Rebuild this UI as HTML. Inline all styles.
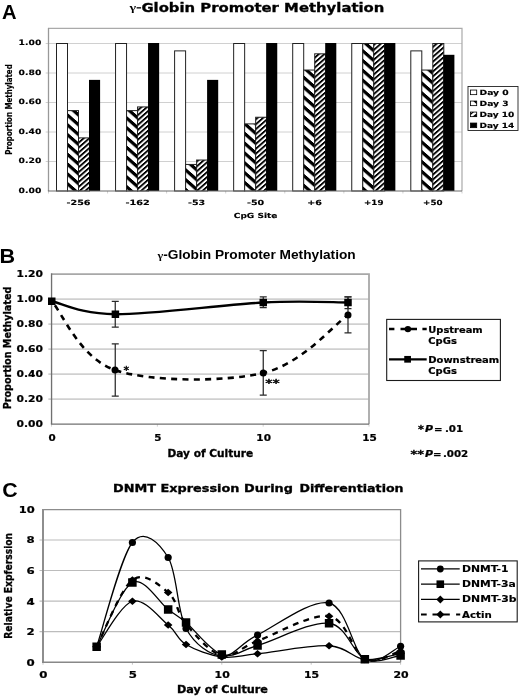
<!DOCTYPE html>
<html><head><meta charset="utf-8"><title>Figure</title>
<style>html,body{margin:0;padding:0;background:#fff}svg{display:block}</style></head>
<body>
<svg width="520" height="697" viewBox="0 0 520 697">
<defs>
<pattern id="h3" patternUnits="userSpaceOnUse" width="20" height="9.82" patternTransform="matrix(1 0.88 0 1 362.3 185.8)">
<rect width="20" height="9.82" fill="#fff"/><rect y="0" width="20" height="4.3" fill="#000"/></pattern>
<pattern id="h10" patternUnits="userSpaceOnUse" width="20" height="4.91" patternTransform="matrix(1 -0.88 0 1 373.1 186.8)">
<rect width="20" height="4.91" fill="#fff"/><rect y="0" width="20" height="2.45" fill="#000"/></pattern>
</defs>
<rect width="520" height="697" fill="#fff"/>
<rect x="48.5" y="28.45" width="413.5" height="162.55" fill="#fff"/>
<line x1="45.7" x2="462.0" y1="161.50" y2="161.50" stroke="#d0d0d0" stroke-width="1"/>
<line x1="45.7" x2="462.0" y1="132.00" y2="132.00" stroke="#d0d0d0" stroke-width="1"/>
<line x1="45.7" x2="462.0" y1="102.50" y2="102.50" stroke="#d0d0d0" stroke-width="1"/>
<line x1="45.7" x2="462.0" y1="73.00" y2="73.00" stroke="#d0d0d0" stroke-width="1"/>
<line x1="45.7" x2="462.0" y1="43.50" y2="43.50" stroke="#d0d0d0" stroke-width="1"/>
<path d="M48.5,28.45H462.0V191.0" fill="none" stroke="#aaaaaa" stroke-width="1.2"/>
<path d="M48.5,27.849999999999998V191.0" fill="none" stroke="#999999" stroke-width="1.3"/>
<text x="18.60" y="192.90" font-family='"DejaVu Sans", "Liberation Sans", sans-serif' font-weight="bold" font-style="normal" font-size="7.4" textLength="22.70" lengthAdjust="spacingAndGlyphs" fill="#000"  stroke="#000" stroke-width="0.15">0.00</text>
<text x="18.60" y="163.40" font-family='"DejaVu Sans", "Liberation Sans", sans-serif' font-weight="bold" font-style="normal" font-size="7.4" textLength="22.70" lengthAdjust="spacingAndGlyphs" fill="#000"  stroke="#000" stroke-width="0.15">0.20</text>
<text x="18.60" y="133.90" font-family='"DejaVu Sans", "Liberation Sans", sans-serif' font-weight="bold" font-style="normal" font-size="7.4" textLength="22.70" lengthAdjust="spacingAndGlyphs" fill="#000"  stroke="#000" stroke-width="0.15">0.40</text>
<text x="18.60" y="104.40" font-family='"DejaVu Sans", "Liberation Sans", sans-serif' font-weight="bold" font-style="normal" font-size="7.4" textLength="22.70" lengthAdjust="spacingAndGlyphs" fill="#000"  stroke="#000" stroke-width="0.15">0.60</text>
<text x="18.60" y="74.90" font-family='"DejaVu Sans", "Liberation Sans", sans-serif' font-weight="bold" font-style="normal" font-size="7.4" textLength="22.70" lengthAdjust="spacingAndGlyphs" fill="#000"  stroke="#000" stroke-width="0.15">0.80</text>
<text x="18.60" y="45.40" font-family='"DejaVu Sans", "Liberation Sans", sans-serif' font-weight="bold" font-style="normal" font-size="7.4" textLength="22.70" lengthAdjust="spacingAndGlyphs" fill="#000"  stroke="#000" stroke-width="0.15">1.00</text>
<rect x="56.50" y="43.50" width="11.0" height="147.50" fill="#fff" stroke="#222" stroke-width="1"/>
<rect x="67.50" y="110.61" width="11.0" height="80.39" fill="url(#h3)" stroke="#222" stroke-width="1"/>
<rect x="78.50" y="137.90" width="11.0" height="53.10" fill="url(#h10)" stroke="#222" stroke-width="1"/>
<rect x="89.00" y="79.88" width="11.1" height="111.12" fill="#000"/>
<text x="66.50" y="205.00" font-family='"DejaVu Sans", "Liberation Sans", sans-serif' font-weight="bold" font-style="normal" font-size="7.1" textLength="24.00" lengthAdjust="spacingAndGlyphs" fill="#000"  stroke="#000" stroke-width="0.15">-256</text>
<rect x="115.55" y="43.50" width="11.0" height="147.50" fill="#fff" stroke="#222" stroke-width="1"/>
<rect x="126.55" y="110.61" width="11.0" height="80.39" fill="url(#h3)" stroke="#222" stroke-width="1"/>
<rect x="137.55" y="106.93" width="11.0" height="84.07" fill="url(#h10)" stroke="#222" stroke-width="1"/>
<rect x="148.05" y="43.00" width="11.1" height="148.00" fill="#000"/>
<text x="125.40" y="205.00" font-family='"DejaVu Sans", "Liberation Sans", sans-serif' font-weight="bold" font-style="normal" font-size="7.1" textLength="24.30" lengthAdjust="spacingAndGlyphs" fill="#000"  stroke="#000" stroke-width="0.15">-162</text>
<rect x="174.60" y="50.88" width="11.0" height="140.12" fill="#fff" stroke="#222" stroke-width="1"/>
<rect x="185.60" y="164.45" width="11.0" height="26.55" fill="url(#h3)" stroke="#222" stroke-width="1"/>
<rect x="196.60" y="160.03" width="11.0" height="30.97" fill="url(#h10)" stroke="#222" stroke-width="1"/>
<rect x="207.10" y="79.88" width="11.1" height="111.12" fill="#000"/>
<text x="188.00" y="205.00" font-family='"DejaVu Sans", "Liberation Sans", sans-serif' font-weight="bold" font-style="normal" font-size="7.1" textLength="17.20" lengthAdjust="spacingAndGlyphs" fill="#000"  stroke="#000" stroke-width="0.15">-53</text>
<rect x="233.65" y="43.50" width="11.0" height="147.50" fill="#fff" stroke="#222" stroke-width="1"/>
<rect x="244.65" y="123.89" width="11.0" height="67.11" fill="url(#h3)" stroke="#222" stroke-width="1"/>
<rect x="255.65" y="117.25" width="11.0" height="73.75" fill="url(#h10)" stroke="#222" stroke-width="1"/>
<rect x="266.15" y="43.00" width="11.1" height="148.00" fill="#000"/>
<text x="247.05" y="205.00" font-family='"DejaVu Sans", "Liberation Sans", sans-serif' font-weight="bold" font-style="normal" font-size="7.1" textLength="17.20" lengthAdjust="spacingAndGlyphs" fill="#000"  stroke="#000" stroke-width="0.15">-50</text>
<rect x="292.70" y="43.50" width="11.0" height="147.50" fill="#fff" stroke="#222" stroke-width="1"/>
<rect x="303.70" y="70.05" width="11.0" height="120.95" fill="url(#h3)" stroke="#222" stroke-width="1"/>
<rect x="314.70" y="53.82" width="11.0" height="137.18" fill="url(#h10)" stroke="#222" stroke-width="1"/>
<rect x="325.20" y="43.00" width="11.1" height="148.00" fill="#000"/>
<text x="307.35" y="205.00" font-family='"DejaVu Sans", "Liberation Sans", sans-serif' font-weight="bold" font-style="normal" font-size="7.1" textLength="14.70" lengthAdjust="spacingAndGlyphs" fill="#000"  stroke="#000" stroke-width="0.15">+6</text>
<rect x="351.75" y="43.50" width="11.0" height="147.50" fill="#fff" stroke="#222" stroke-width="1"/>
<rect x="362.75" y="43.50" width="11.0" height="147.50" fill="url(#h3)" stroke="#222" stroke-width="1"/>
<rect x="373.75" y="43.50" width="11.0" height="147.50" fill="url(#h10)" stroke="#222" stroke-width="1"/>
<rect x="384.25" y="43.00" width="11.1" height="148.00" fill="#000"/>
<text x="364.05" y="205.00" font-family='"DejaVu Sans", "Liberation Sans", sans-serif' font-weight="bold" font-style="normal" font-size="7.1" textLength="19.40" lengthAdjust="spacingAndGlyphs" fill="#000"  stroke="#000" stroke-width="0.15">+19</text>
<rect x="410.80" y="50.88" width="11.0" height="140.12" fill="#fff" stroke="#222" stroke-width="1"/>
<rect x="421.80" y="70.05" width="11.0" height="120.95" fill="url(#h3)" stroke="#222" stroke-width="1"/>
<rect x="432.80" y="43.50" width="11.0" height="147.50" fill="url(#h10)" stroke="#222" stroke-width="1"/>
<rect x="443.30" y="54.80" width="11.1" height="136.20" fill="#000"/>
<text x="423.10" y="205.00" font-family='"DejaVu Sans", "Liberation Sans", sans-serif' font-weight="bold" font-style="normal" font-size="7.1" textLength="19.40" lengthAdjust="spacingAndGlyphs" fill="#000"  stroke="#000" stroke-width="0.15">+50</text>
<line x1="48.50" x2="48.50" y1="191.0" y2="193.5" stroke="#d2d2d2" stroke-width="1"/>
<line x1="107.57" x2="107.57" y1="191.0" y2="193.5" stroke="#d2d2d2" stroke-width="1"/>
<line x1="166.64" x2="166.64" y1="191.0" y2="193.5" stroke="#d2d2d2" stroke-width="1"/>
<line x1="225.71" x2="225.71" y1="191.0" y2="193.5" stroke="#d2d2d2" stroke-width="1"/>
<line x1="284.79" x2="284.79" y1="191.0" y2="193.5" stroke="#d2d2d2" stroke-width="1"/>
<line x1="343.86" x2="343.86" y1="191.0" y2="193.5" stroke="#d2d2d2" stroke-width="1"/>
<line x1="402.93" x2="402.93" y1="191.0" y2="193.5" stroke="#d2d2d2" stroke-width="1"/>
<line x1="462.00" x2="462.00" y1="191.0" y2="193.5" stroke="#d2d2d2" stroke-width="1"/>
<path d="M47.9,191.0H462.0" fill="none" stroke="#6a6a6a" stroke-width="1.15"/>
<text x="233.80" y="217.90" font-family='"DejaVu Sans", "Liberation Sans", sans-serif' font-weight="bold" font-style="normal" font-size="7.0" textLength="43.60" lengthAdjust="spacingAndGlyphs" fill="#000"  stroke="#000" stroke-width="0.15">CpG Site</text>
<text x="2.10" y="18.85" font-family='"Liberation Sans", sans-serif' font-weight="bold" font-style="normal" font-size="21" textLength="14.60" lengthAdjust="spacingAndGlyphs" fill="#000" >A</text>
<text x="129.60" y="11.00" font-family='"Liberation Serif", serif' font-weight="bold" font-style="normal" font-size="10.5" textLength="6.60" lengthAdjust="spacingAndGlyphs" fill="#000" >γ</text>
<rect x="136.6" y="7.2" width="4.5" height="1.3" fill="#000"/>
<text x="141.40" y="11.60" font-family='"DejaVu Sans", "Liberation Sans", sans-serif' font-weight="bold" font-style="normal" font-size="11.5" textLength="243.00" lengthAdjust="spacingAndGlyphs" fill="#000"  stroke="#000" stroke-width="0.3">Globin Promoter Methylation</text>
<g transform="translate(12.0,109.5) rotate(-90)">
<text x="-45.20" y="0.00" font-family='"DejaVu Sans Condensed", "DejaVu Sans", sans-serif' font-weight="bold" font-style="normal" font-size="8.2" textLength="90.40" lengthAdjust="spacingAndGlyphs" fill="#000"  stroke="#000" stroke-width="0.15">Proportion Methylated</text>
</g>
<rect x="468" y="86.5" width="50" height="44" fill="#fff" stroke="#222" stroke-width="0.9"/>
<rect x="470.5" y="90.05" width="6.2" height="4.6" fill="#fff" stroke="#000" stroke-width="0.8"/>
<text x="479.60" y="94.75" font-family='"DejaVu Sans", "Liberation Sans", sans-serif' font-weight="bold" font-style="normal" font-size="7.2" textLength="29.10" lengthAdjust="spacingAndGlyphs" fill="#000"  stroke="#000" stroke-width="0.15">Day 0</text>
<rect x="470.5" y="101.05" width="6.2" height="4.6" fill="#fff" stroke="#000" stroke-width="0.8"/>
<path d="M473.2,101.05L476.7,104.15V101.05Z" fill="#000"/>
<text x="479.60" y="105.75" font-family='"DejaVu Sans", "Liberation Sans", sans-serif' font-weight="bold" font-style="normal" font-size="7.2" textLength="29.10" lengthAdjust="spacingAndGlyphs" fill="#000"  stroke="#000" stroke-width="0.15">Day 3</text>
<rect x="470.5" y="112.05" width="6.2" height="4.6" fill="#fff" stroke="#000" stroke-width="0.8"/>
<path d="M470.5,116.65V113.55L472.5,112.05H474L470.5,115.15ZM472.3,116.65L476.7,113.15V116.65Z" fill="#000"/>
<text x="479.60" y="116.75" font-family='"DejaVu Sans", "Liberation Sans", sans-serif' font-weight="bold" font-style="normal" font-size="7.2" textLength="34.75" lengthAdjust="spacingAndGlyphs" fill="#000"  stroke="#000" stroke-width="0.15">Day 10</text>
<rect x="470.5" y="123.05" width="6.2" height="4.6" fill="#000" stroke="#000" stroke-width="0.8"/>
<text x="479.60" y="127.75" font-family='"DejaVu Sans", "Liberation Sans", sans-serif' font-weight="bold" font-style="normal" font-size="7.2" textLength="34.75" lengthAdjust="spacingAndGlyphs" fill="#000"  stroke="#000" stroke-width="0.15">Day 14</text>
<rect x="51.55" y="274.2" width="317.45" height="149.95" fill="#fff"/>
<line x1="48.349999999999994" x2="369.0" y1="399.15" y2="399.15" stroke="#d0d0d0" stroke-width="1.8"/>
<line x1="48.349999999999994" x2="369.0" y1="374.15" y2="374.15" stroke="#d0d0d0" stroke-width="1.8"/>
<line x1="48.349999999999994" x2="369.0" y1="349.15" y2="349.15" stroke="#d0d0d0" stroke-width="1.8"/>
<line x1="48.349999999999994" x2="369.0" y1="324.15" y2="324.15" stroke="#d0d0d0" stroke-width="1.8"/>
<line x1="48.349999999999994" x2="369.0" y1="299.15" y2="299.15" stroke="#d0d0d0" stroke-width="1.8"/>
<path d="M51.55,274.2H369.0V424.15" fill="none" stroke="#a8a8a8" stroke-width="1.8"/>
<path d="M51.55,273.3V424.15" fill="none" stroke="#707070" stroke-width="1.35"/>
<text x="16.60" y="427.15" font-family='"DejaVu Sans", "Liberation Sans", sans-serif' font-weight="bold" font-style="normal" font-size="9.5" textLength="26.40" lengthAdjust="spacingAndGlyphs" fill="#000"  stroke="#000" stroke-width="0.22">0.00</text>
<text x="16.60" y="402.15" font-family='"DejaVu Sans", "Liberation Sans", sans-serif' font-weight="bold" font-style="normal" font-size="9.5" textLength="26.40" lengthAdjust="spacingAndGlyphs" fill="#000"  stroke="#000" stroke-width="0.22">0.20</text>
<text x="16.60" y="377.15" font-family='"DejaVu Sans", "Liberation Sans", sans-serif' font-weight="bold" font-style="normal" font-size="9.5" textLength="26.40" lengthAdjust="spacingAndGlyphs" fill="#000"  stroke="#000" stroke-width="0.22">0.40</text>
<text x="16.60" y="352.15" font-family='"DejaVu Sans", "Liberation Sans", sans-serif' font-weight="bold" font-style="normal" font-size="9.5" textLength="26.40" lengthAdjust="spacingAndGlyphs" fill="#000"  stroke="#000" stroke-width="0.22">0.60</text>
<text x="16.60" y="327.15" font-family='"DejaVu Sans", "Liberation Sans", sans-serif' font-weight="bold" font-style="normal" font-size="9.5" textLength="26.40" lengthAdjust="spacingAndGlyphs" fill="#000"  stroke="#000" stroke-width="0.22">0.80</text>
<text x="16.60" y="302.15" font-family='"DejaVu Sans", "Liberation Sans", sans-serif' font-weight="bold" font-style="normal" font-size="9.5" textLength="26.40" lengthAdjust="spacingAndGlyphs" fill="#000"  stroke="#000" stroke-width="0.22">1.00</text>
<text x="16.60" y="277.15" font-family='"DejaVu Sans", "Liberation Sans", sans-serif' font-weight="bold" font-style="normal" font-size="9.5" textLength="26.40" lengthAdjust="spacingAndGlyphs" fill="#000"  stroke="#000" stroke-width="0.22">1.20</text>
<line x1="51.55" x2="51.55" y1="424.15" y2="426.65" stroke="#d0d0d0" stroke-width="1"/>
<text x="48.45" y="441.20" font-family='"DejaVu Sans", "Liberation Sans", sans-serif' font-weight="bold" font-style="normal" font-size="9.5" textLength="7.20" lengthAdjust="spacingAndGlyphs" fill="#000"  stroke="#000" stroke-width="0.22">0</text>
<line x1="157.37" x2="157.37" y1="424.15" y2="426.65" stroke="#d0d0d0" stroke-width="1"/>
<text x="154.27" y="441.20" font-family='"DejaVu Sans", "Liberation Sans", sans-serif' font-weight="bold" font-style="normal" font-size="9.5" textLength="7.20" lengthAdjust="spacingAndGlyphs" fill="#000"  stroke="#000" stroke-width="0.22">5</text>
<line x1="263.18" x2="263.18" y1="424.15" y2="426.65" stroke="#d0d0d0" stroke-width="1"/>
<text x="256.38" y="441.20" font-family='"DejaVu Sans", "Liberation Sans", sans-serif' font-weight="bold" font-style="normal" font-size="9.5" textLength="14.60" lengthAdjust="spacingAndGlyphs" fill="#000"  stroke="#000" stroke-width="0.22">10</text>
<line x1="369.00" x2="369.00" y1="424.15" y2="426.65" stroke="#d0d0d0" stroke-width="1"/>
<text x="362.20" y="441.20" font-family='"DejaVu Sans", "Liberation Sans", sans-serif' font-weight="bold" font-style="normal" font-size="9.5" textLength="14.60" lengthAdjust="spacingAndGlyphs" fill="#000"  stroke="#000" stroke-width="0.22">15</text>
<path d="M50.849999999999994,424.15H369.0" fill="none" stroke="#707070" stroke-width="1.4"/>
<path d="M115.25,301.25V327.00M111.75,301.25h7M111.75,327.00h7" stroke="#2a2a2a" stroke-width="1.25" fill="none"/>
<path d="M115.25,343.75V396.00M111.75,343.75h7M111.75,396.00h7" stroke="#2a2a2a" stroke-width="1.25" fill="none"/>
<path d="M263.25,296.75V307.50M259.75,296.75h7M259.75,307.50h7" stroke="#2a2a2a" stroke-width="1.25" fill="none"/>
<path d="M263.25,350.50V395.00M259.75,350.50h7M259.75,395.00h7" stroke="#2a2a2a" stroke-width="1.25" fill="none"/>
<path d="M348.00,296.80V308.50M344.50,296.80h7M344.50,308.50h7" stroke="#2a2a2a" stroke-width="1.25" fill="none"/>
<path d="M348.00,296.80V332.80M344.50,296.80h7M344.50,332.80h7" stroke="#2a2a2a" stroke-width="1.25" fill="none"/>
<path d="M51.75,301.25 C62.29,312.71 79.75,358.04 115.00,370.00 C150.25,381.96 224.42,382.17 263.25,373.00 C302.08,363.83 333.88,324.67 348.00,315.00" stroke="#000" stroke-width="2.6" fill="none" stroke-dasharray="6,5.3" stroke-dashoffset="-5.4"/>
<path d="M51.75,301.25 C62.36,303.42 80.15,314.04 115.40,314.25 C150.65,314.46 224.48,304.46 263.25,302.50 C302.02,300.54 333.88,302.50 348.00,302.50" stroke="#000" stroke-width="2.35" fill="none"/>
<circle cx="115.00" cy="370.00" r="3.5" fill="#000"/>
<circle cx="263.25" cy="373.00" r="3.5" fill="#000"/>
<circle cx="348.00" cy="315.00" r="3.5" fill="#000"/>
<rect x="48.00" y="297.50" width="7.5" height="7.5" fill="#000"/>
<rect x="111.65" y="310.50" width="7.5" height="7.5" fill="#000"/>
<rect x="259.50" y="298.75" width="7.5" height="7.5" fill="#000"/>
<rect x="344.25" y="298.75" width="7.5" height="7.5" fill="#000"/>
<text x="123.60" y="373.60" font-family='"DejaVu Sans", "Liberation Sans", sans-serif' font-weight="normal" font-style="normal" font-size="11" textLength="5.60" lengthAdjust="spacingAndGlyphs" fill="#000" stroke="#000" stroke-width="0.45">*</text>
<text x="265.30" y="387.40" font-family='"DejaVu Sans", "Liberation Sans", sans-serif' font-weight="normal" font-style="normal" font-size="11" textLength="14.50" lengthAdjust="spacingAndGlyphs" fill="#000" stroke="#000" stroke-width="0.45">**</text>
<text x="-0.40" y="263.10" font-family='"Liberation Sans", sans-serif' font-weight="bold" font-style="normal" font-size="21" textLength="15.60" lengthAdjust="spacingAndGlyphs" fill="#000" >B</text>
<text x="157.60" y="259.30" font-family='"Liberation Serif", serif' font-weight="bold" font-style="normal" font-size="11" textLength="5.70" lengthAdjust="spacingAndGlyphs" fill="#000" >γ</text>
<text x="163.20" y="259.30" font-family='"Liberation Sans", sans-serif' font-weight="bold" font-style="normal" font-size="12" textLength="192.50" lengthAdjust="spacingAndGlyphs" fill="#000" >-Globin Promoter Methylation</text>
<text x="167.50" y="456.70" font-family='"DejaVu Sans", "Liberation Sans", sans-serif' font-weight="bold" font-style="normal" font-size="10.1" textLength="85.70" lengthAdjust="spacingAndGlyphs" fill="#000"  stroke="#000" stroke-width="0.3">Day of Culture</text>
<g transform="translate(10.6,348) rotate(-90)">
<text x="-61.30" y="0.00" font-family='"DejaVu Sans Condensed", "DejaVu Sans", sans-serif' font-weight="bold" font-style="normal" font-size="10.1" textLength="122.60" lengthAdjust="spacingAndGlyphs" fill="#000"  stroke="#000" stroke-width="0.3">Proportion Methylated</text>
</g>
<rect x="386.7" y="319.4" width="113.7" height="61.1" fill="#fff" stroke="#1a1a1a" stroke-width="1.1"/>
<path d="M389,329h5.4M400.5,329h16.5M422.4,329h4.3" stroke="#000" stroke-width="2.3"/>
<circle cx="407.90" cy="329.10" r="3.2" fill="#000"/>
<path d="M389,359.3h37.7" stroke="#000" stroke-width="2.2"/>
<rect x="404.25" y="355.95" width="6.7" height="6.7" fill="#000"/>
<text x="428.30" y="332.70" font-family='"DejaVu Sans", "Liberation Sans", sans-serif' font-weight="bold" font-style="normal" font-size="9.1" textLength="54.40" lengthAdjust="spacingAndGlyphs" fill="#000"  stroke="#000" stroke-width="0.22">Upstream</text>
<text x="428.30" y="343.70" font-family='"DejaVu Sans", "Liberation Sans", sans-serif' font-weight="bold" font-style="normal" font-size="9.1" textLength="28.50" lengthAdjust="spacingAndGlyphs" fill="#000"  stroke="#000" stroke-width="0.22">CpGs</text>
<text x="428.30" y="363.30" font-family='"DejaVu Sans", "Liberation Sans", sans-serif' font-weight="bold" font-style="normal" font-size="9.1" textLength="70.90" lengthAdjust="spacingAndGlyphs" fill="#000"  stroke="#000" stroke-width="0.22">Downstream</text>
<text x="428.30" y="374.20" font-family='"DejaVu Sans", "Liberation Sans", sans-serif' font-weight="bold" font-style="normal" font-size="9.1" textLength="28.50" lengthAdjust="spacingAndGlyphs" fill="#000"  stroke="#000" stroke-width="0.22">CpGs</text>
<text x="418.00" y="433.00" font-family='"DejaVu Sans", "Liberation Sans", sans-serif' font-weight="bold" font-style="normal" font-size="11" textLength="5.90" lengthAdjust="spacingAndGlyphs" fill="#000"  stroke="#000" stroke-width="0.3">*</text>
<text x="425.00" y="432.10" font-family='"DejaVu Sans", "Liberation Sans", sans-serif' font-weight="bold" font-style="italic" font-size="9.2" textLength="8.00" lengthAdjust="spacingAndGlyphs" fill="#000"  stroke="#000" stroke-width="0.22">P</text>
<text x="433.90" y="432.10" font-family='"DejaVu Sans", "Liberation Sans", sans-serif' font-weight="bold" font-style="normal" font-size="9.2" textLength="8.50" lengthAdjust="spacingAndGlyphs" fill="#000"  stroke="#000" stroke-width="0.22">=</text>
<text x="444.90" y="432.10" font-family='"DejaVu Sans", "Liberation Sans", sans-serif' font-weight="bold" font-style="normal" font-size="9.2" textLength="18.30" lengthAdjust="spacingAndGlyphs" fill="#000"  stroke="#000" stroke-width="0.22">.01</text>
<text x="410.40" y="457.70" font-family='"DejaVu Sans", "Liberation Sans", sans-serif' font-weight="bold" font-style="normal" font-size="11" textLength="13.50" lengthAdjust="spacingAndGlyphs" fill="#000"  stroke="#000" stroke-width="0.3">**</text>
<text x="425.00" y="456.80" font-family='"DejaVu Sans", "Liberation Sans", sans-serif' font-weight="bold" font-style="italic" font-size="9.2" textLength="8.00" lengthAdjust="spacingAndGlyphs" fill="#000"  stroke="#000" stroke-width="0.22">P</text>
<text x="432.90" y="456.80" font-family='"DejaVu Sans", "Liberation Sans", sans-serif' font-weight="bold" font-style="normal" font-size="9.2" textLength="8.50" lengthAdjust="spacingAndGlyphs" fill="#000"  stroke="#000" stroke-width="0.22">=</text>
<text x="442.90" y="456.80" font-family='"DejaVu Sans", "Liberation Sans", sans-serif' font-weight="bold" font-style="normal" font-size="9.2" textLength="25.40" lengthAdjust="spacingAndGlyphs" fill="#000"  stroke="#000" stroke-width="0.22">.002</text>
<rect x="43.0" y="509.55" width="357.6" height="152.65000000000003" fill="#fff"/>
<line x1="39.5" x2="400.6" y1="631.64" y2="631.64" stroke="#bcbcbc" stroke-width="1.1"/>
<line x1="39.5" x2="400.6" y1="601.08" y2="601.08" stroke="#bcbcbc" stroke-width="1.1"/>
<line x1="39.5" x2="400.6" y1="570.52" y2="570.52" stroke="#bcbcbc" stroke-width="1.1"/>
<line x1="39.5" x2="400.6" y1="539.96" y2="539.96" stroke="#bcbcbc" stroke-width="1.1"/>
<path d="M43.0,509.55H400.6V662.2" fill="none" stroke="#8c8c8c" stroke-width="1.3"/>
<path d="M43.0,508.90000000000003V662.2" fill="none" stroke="#8e8e8e" stroke-width="2.0"/>
<text x="26.60" y="665.70" font-family='"DejaVu Sans", "Liberation Sans", sans-serif' font-weight="bold" font-style="normal" font-size="9.3" textLength="8.20" lengthAdjust="spacingAndGlyphs" fill="#000"  stroke="#000" stroke-width="0.22">0</text>
<text x="26.60" y="635.14" font-family='"DejaVu Sans", "Liberation Sans", sans-serif' font-weight="bold" font-style="normal" font-size="9.3" textLength="8.20" lengthAdjust="spacingAndGlyphs" fill="#000"  stroke="#000" stroke-width="0.22">2</text>
<text x="26.60" y="604.58" font-family='"DejaVu Sans", "Liberation Sans", sans-serif' font-weight="bold" font-style="normal" font-size="9.3" textLength="8.20" lengthAdjust="spacingAndGlyphs" fill="#000"  stroke="#000" stroke-width="0.22">4</text>
<text x="26.60" y="574.02" font-family='"DejaVu Sans", "Liberation Sans", sans-serif' font-weight="bold" font-style="normal" font-size="9.3" textLength="8.20" lengthAdjust="spacingAndGlyphs" fill="#000"  stroke="#000" stroke-width="0.22">6</text>
<text x="26.60" y="543.46" font-family='"DejaVu Sans", "Liberation Sans", sans-serif' font-weight="bold" font-style="normal" font-size="9.3" textLength="8.20" lengthAdjust="spacingAndGlyphs" fill="#000"  stroke="#000" stroke-width="0.22">8</text>
<text x="18.80" y="512.90" font-family='"DejaVu Sans", "Liberation Sans", sans-serif' font-weight="bold" font-style="normal" font-size="9.3" textLength="16.00" lengthAdjust="spacingAndGlyphs" fill="#000"  stroke="#000" stroke-width="0.22">10</text>
<line x1="43.00" x2="43.00" y1="662.2" y2="664.7" stroke="#c4c4c4" stroke-width="1"/>
<text x="39.30" y="678.40" font-family='"DejaVu Sans", "Liberation Sans", sans-serif' font-weight="bold" font-style="normal" font-size="9.3" textLength="8.20" lengthAdjust="spacingAndGlyphs" fill="#000"  stroke="#000" stroke-width="0.22">0</text>
<line x1="132.40" x2="132.40" y1="662.2" y2="664.7" stroke="#c4c4c4" stroke-width="1"/>
<text x="128.70" y="678.40" font-family='"DejaVu Sans", "Liberation Sans", sans-serif' font-weight="bold" font-style="normal" font-size="9.3" textLength="8.20" lengthAdjust="spacingAndGlyphs" fill="#000"  stroke="#000" stroke-width="0.22">5</text>
<line x1="221.80" x2="221.80" y1="662.2" y2="664.7" stroke="#c4c4c4" stroke-width="1"/>
<text x="214.60" y="678.40" font-family='"DejaVu Sans", "Liberation Sans", sans-serif' font-weight="bold" font-style="normal" font-size="9.3" textLength="15.20" lengthAdjust="spacingAndGlyphs" fill="#000"  stroke="#000" stroke-width="0.22">10</text>
<line x1="311.20" x2="311.20" y1="662.2" y2="664.7" stroke="#c4c4c4" stroke-width="1"/>
<text x="304.00" y="678.40" font-family='"DejaVu Sans", "Liberation Sans", sans-serif' font-weight="bold" font-style="normal" font-size="9.3" textLength="15.20" lengthAdjust="spacingAndGlyphs" fill="#000"  stroke="#000" stroke-width="0.22">15</text>
<line x1="400.60" x2="400.60" y1="662.2" y2="664.7" stroke="#c4c4c4" stroke-width="1"/>
<text x="393.40" y="678.40" font-family='"DejaVu Sans", "Liberation Sans", sans-serif' font-weight="bold" font-style="normal" font-size="9.3" textLength="15.20" lengthAdjust="spacingAndGlyphs" fill="#000"  stroke="#000" stroke-width="0.22">20</text>
<path d="M42.0,662.2H400.6" fill="none" stroke="#888888" stroke-width="1.4"/>
<path d="M96.64,646.75 C102.60,635.62 120.48,589.04 132.40,580.00 C144.32,570.96 159.22,585.17 168.16,592.50 C177.10,599.83 177.10,613.50 186.04,624.00 C194.98,634.50 209.88,652.67 221.80,655.50 C233.72,658.33 239.68,647.54 257.56,641.00 C275.44,634.46 311.20,613.25 329.08,616.25 C346.96,619.25 352.92,653.21 364.84,659.00 C376.76,664.79 394.64,652.33 400.60,651.00" stroke="#000" stroke-width="2.3" fill="none" stroke-dasharray="5.8,5.4"/>
<path d="M96.64,646.75 C102.60,629.38 120.48,557.38 132.40,542.50 C144.32,527.62 159.22,543.17 168.16,557.50 C177.10,571.83 177.10,612.08 186.04,628.50 C194.98,644.92 209.88,654.92 221.80,656.00 C233.72,657.08 239.68,643.83 257.56,635.00 C275.44,626.17 311.20,598.92 329.08,603.00 C346.96,607.08 352.92,652.29 364.84,659.50 C376.76,666.71 394.64,648.46 400.60,646.25" stroke="#000" stroke-width="1.3" fill="none"/>
<path d="M96.64,646.75 C102.60,636.04 120.48,588.71 132.40,582.50 C144.32,576.29 159.22,602.83 168.16,609.50 C177.10,616.17 177.10,615.00 186.04,622.50 C194.98,630.00 209.88,650.67 221.80,654.50 C233.72,658.33 239.68,650.71 257.56,645.50 C275.44,640.29 311.20,620.96 329.08,623.25 C346.96,625.54 352.92,653.88 364.84,659.25 C376.76,664.62 394.64,656.12 400.60,655.50" stroke="#000" stroke-width="1.3" fill="none"/>
<path d="M96.64,646.75 C102.60,639.17 120.48,604.88 132.40,601.25 C144.32,597.62 159.22,617.79 168.16,625.00 C177.10,632.21 177.10,639.17 186.04,644.50 C194.98,649.83 209.88,655.46 221.80,657.00 C233.72,658.54 239.68,655.62 257.56,653.75 C275.44,651.88 311.20,644.79 329.08,645.75 C346.96,646.71 352.92,658.21 364.84,659.50 C376.76,660.79 394.64,654.50 400.60,653.50" stroke="#000" stroke-width="1.3" fill="none"/>
<path d="M92.34,646.75L96.64,643.05L100.94,646.75L96.64,650.45Z" fill="#000"/>
<path d="M128.10,580.00L132.40,576.30L136.70,580.00L132.40,583.70Z" fill="#000"/>
<path d="M163.86,592.50L168.16,588.80L172.46,592.50L168.16,596.20Z" fill="#000"/>
<path d="M181.74,624.00L186.04,620.30L190.34,624.00L186.04,627.70Z" fill="#000"/>
<path d="M217.50,655.50L221.80,651.80L226.10,655.50L221.80,659.20Z" fill="#000"/>
<path d="M253.26,641.00L257.56,637.30L261.86,641.00L257.56,644.70Z" fill="#000"/>
<path d="M324.78,616.25L329.08,612.55L333.38,616.25L329.08,619.95Z" fill="#000"/>
<path d="M360.54,659.00L364.84,655.30L369.14,659.00L364.84,662.70Z" fill="#000"/>
<path d="M396.30,651.00L400.60,647.30L404.90,651.00L400.60,654.70Z" fill="#000"/>
<path d="M92.34,646.75L96.64,643.05L100.94,646.75L96.64,650.45Z" fill="#000"/>
<path d="M128.10,601.25L132.40,597.55L136.70,601.25L132.40,604.95Z" fill="#000"/>
<path d="M163.86,625.00L168.16,621.30L172.46,625.00L168.16,628.70Z" fill="#000"/>
<path d="M181.74,644.50L186.04,640.80L190.34,644.50L186.04,648.20Z" fill="#000"/>
<path d="M217.50,657.00L221.80,653.30L226.10,657.00L221.80,660.70Z" fill="#000"/>
<path d="M253.26,653.75L257.56,650.05L261.86,653.75L257.56,657.45Z" fill="#000"/>
<path d="M324.78,645.75L329.08,642.05L333.38,645.75L329.08,649.45Z" fill="#000"/>
<path d="M360.54,659.50L364.84,655.80L369.14,659.50L364.84,663.20Z" fill="#000"/>
<path d="M396.30,653.50L400.60,649.80L404.90,653.50L400.60,657.20Z" fill="#000"/>
<circle cx="96.64" cy="646.75" r="3.6" fill="#000"/>
<circle cx="132.40" cy="542.50" r="3.6" fill="#000"/>
<circle cx="168.16" cy="557.50" r="3.6" fill="#000"/>
<circle cx="186.04" cy="628.50" r="3.6" fill="#000"/>
<circle cx="221.80" cy="656.00" r="3.6" fill="#000"/>
<circle cx="257.56" cy="635.00" r="3.6" fill="#000"/>
<circle cx="329.08" cy="603.00" r="3.6" fill="#000"/>
<circle cx="364.84" cy="659.50" r="3.6" fill="#000"/>
<circle cx="400.60" cy="646.25" r="3.6" fill="#000"/>
<rect x="92.39" y="642.50" width="8.5" height="8.5" fill="#000"/>
<rect x="128.15" y="578.25" width="8.5" height="8.5" fill="#000"/>
<rect x="163.91" y="605.25" width="8.5" height="8.5" fill="#000"/>
<rect x="181.79" y="618.25" width="8.5" height="8.5" fill="#000"/>
<rect x="217.55" y="650.25" width="8.5" height="8.5" fill="#000"/>
<rect x="253.31" y="641.25" width="8.5" height="8.5" fill="#000"/>
<rect x="324.83" y="619.00" width="8.5" height="8.5" fill="#000"/>
<rect x="360.59" y="655.00" width="8.5" height="8.5" fill="#000"/>
<rect x="396.35" y="651.25" width="8.5" height="8.5" fill="#000"/>
<text x="2.20" y="497.00" font-family='"Liberation Sans", sans-serif' font-weight="bold" font-style="normal" font-size="21" textLength="15.40" lengthAdjust="spacingAndGlyphs" fill="#000" >C</text>
<text x="113.00" y="492.10" font-family='"DejaVu Sans", "Liberation Sans", sans-serif' font-weight="bold" font-style="normal" font-size="10.1" textLength="179.90" lengthAdjust="spacingAndGlyphs" fill="#000"  stroke="#000" stroke-width="0.3">DNMT Expression During</text>
<text x="299.50" y="492.10" font-family='"DejaVu Sans", "Liberation Sans", sans-serif' font-weight="bold" font-style="normal" font-size="10.1" textLength="104.10" lengthAdjust="spacingAndGlyphs" fill="#000"  stroke="#000" stroke-width="0.3">Differentiation</text>
<text x="177.00" y="692.60" font-family='"DejaVu Sans", "Liberation Sans", sans-serif' font-weight="bold" font-style="normal" font-size="10.1" textLength="91.00" lengthAdjust="spacingAndGlyphs" fill="#000"  stroke="#000" stroke-width="0.3">Day of Culture</text>
<g transform="translate(12.35,585.8) rotate(-90)">
<text x="-52.90" y="0.00" font-family='"DejaVu Sans Condensed", "DejaVu Sans", sans-serif' font-weight="bold" font-style="normal" font-size="11" textLength="105.80" lengthAdjust="spacingAndGlyphs" fill="#000"  stroke="#000" stroke-width="0.3">Relative Expferssion</text>
</g>
<rect x="418.6" y="560.9" width="98.6" height="61" fill="#fff" stroke="#1a1a1a" stroke-width="1.1"/>
<path d="M421,568.9h38.7" stroke="#000" stroke-width="1.3"/>
<circle cx="440.30" cy="569.00" r="3.4" fill="#000"/>
<text x="462.10" y="571.90" font-family='"DejaVu Sans", "Liberation Sans", sans-serif' font-weight="bold" font-style="normal" font-size="8.1" textLength="46.50" lengthAdjust="spacingAndGlyphs" fill="#000"  stroke="#000" stroke-width="0.15">DNMT-1</text>
<path d="M421,584.1h38.7" stroke="#000" stroke-width="1.3"/>
<rect x="436.50" y="580.40" width="7.6" height="7.6" fill="#000"/>
<text x="462.10" y="587.10" font-family='"DejaVu Sans", "Liberation Sans", sans-serif' font-weight="bold" font-style="normal" font-size="8.1" textLength="53.70" lengthAdjust="spacingAndGlyphs" fill="#000"  stroke="#000" stroke-width="0.15">DNMT-3a</text>
<path d="M421,599.3h38.7" stroke="#000" stroke-width="1.3"/>
<path d="M436.30,599.40L440.30,595.40L444.30,599.40L440.30,603.40Z" fill="#000"/>
<text x="462.10" y="602.30" font-family='"DejaVu Sans", "Liberation Sans", sans-serif' font-weight="bold" font-style="normal" font-size="8.1" textLength="54.40" lengthAdjust="spacingAndGlyphs" fill="#000"  stroke="#000" stroke-width="0.15">DNMT-3b</text>
<path d="M421,614.5h5.7M432.5,614.5h17.3M456.1,614.5h4.1" stroke="#000" stroke-width="2.1"/>
<path d="M436.30,614.60L440.30,610.60L444.30,614.60L440.30,618.60Z" fill="#000"/>
<text x="462.10" y="617.50" font-family='"DejaVu Sans", "Liberation Sans", sans-serif' font-weight="bold" font-style="normal" font-size="8.1" textLength="29.70" lengthAdjust="spacingAndGlyphs" fill="#000"  stroke="#000" stroke-width="0.15">Actin</text>
</svg>
</body></html>
